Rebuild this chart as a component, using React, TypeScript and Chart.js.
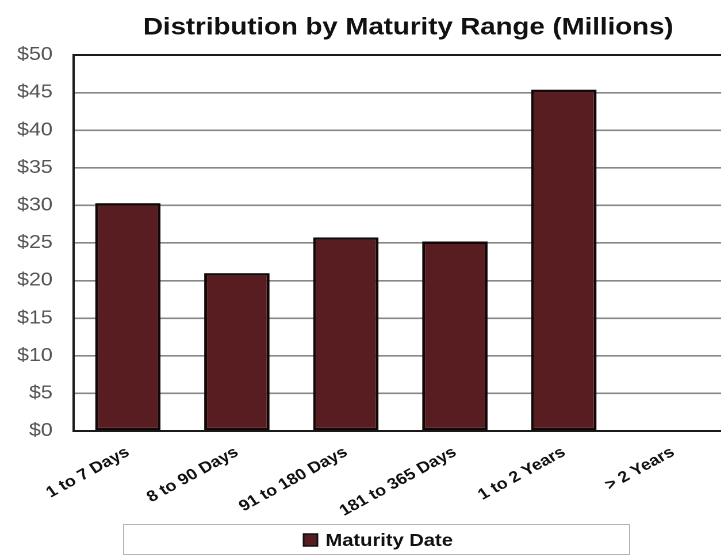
import React, { useEffect, useRef } from 'react';
import { Chart, registerables } from 'chart.js';

Chart.register(...registerables);

const titleText = 'Distribution by Maturity Range (Millions)';
const seriesLabel = 'Maturity Date';
const categories = ['1 to 7 Days', '8 to 90 Days', '91 to 180 Days', '181 to 365 Days', '1 to 2 Years', '> 2 Years'];
const maturityValues = [30.3, 21.0, 25.75, 25.2, 45.4, 0];
const yMin = 0;
const yMax = 50;
const yStep = 5;

const SX = 1.15; // horizontal stretch of the reference picture
const CW = 640;
const CH = 556;
const FONT = '"Liberation Sans", Arial, sans-serif';
const BAR_COLOR = '#581d20';

const overlayPlugin = {
  id: 'overlay',
  afterDraw(chart: any) {
    const ctx = chart.ctx;
    ctx.save();
    // title
    ctx.font = `bold 24px ${FONT}`;
    ctx.fillStyle = '#111';
    ctx.textAlign = 'center';
    ctx.textBaseline = 'middle';
    ctx.fillText(titleText, 355, 28);
    // legend box
    ctx.strokeStyle = '#b4b4b4';
    ctx.lineWidth = 1;
    ctx.strokeRect(107.5, 524.5, 440, 30);
    const ds = chart.data.datasets[0];
    ctx.fillStyle = ds.backgroundColor;
    ctx.fillRect(264, 534, 12, 12);
    ctx.strokeStyle = '#111';
    ctx.lineWidth = 1.5;
    ctx.strokeRect(264, 534, 12, 12);
    ctx.font = `bold 17.5px ${FONT}`;
    ctx.fillStyle = '#111';
    ctx.textAlign = 'left';
    ctx.textBaseline = 'middle';
    ctx.fillText(ds.label, 283, 541);
    ctx.restore();
  },
};

export default function App() {
  const ref = useRef<HTMLCanvasElement | null>(null);
  useEffect(() => {
    if (!ref.current) return;
    const chart = new Chart(ref.current, {
      type: 'bar',
      data: {
        labels: categories,
        datasets: [
          {
            label: seriesLabel,
            data: maturityValues,
            backgroundColor: BAR_COLOR,
            borderColor: '#120808',
            borderWidth: 2.5,
            borderSkipped: false,
            barPercentage: 0.6,
            categoryPercentage: 1,
          },
        ],
      },
      options: {
        animation: false,
        responsive: false,
        maintainAspectRatio: false,
        devicePixelRatio: 2,
        layout: { padding: { top: 55, bottom: 31, left: 0, right: CW - 632.5 } },
        plugins: {
          legend: { display: false },
          title: { display: false },
          tooltip: { enabled: false },
        },
        scales: {
          x: {
            grid: { display: false, drawTicks: false },
            border: { display: true, color: '#1a1a1a', width: 2 },
            ticks: {
              autoSkip: false,
              minRotation: 32,
              maxRotation: 32,
              padding: 12,
              color: '#111',
              font: { family: FONT, size: 15.5, weight: 'bold' },
            },
            afterFit(scale: any) {
              scale.height = 94;
            },
          },
          y: {
            min: yMin,
            max: yMax,
            ticks: {
              stepSize: yStep,
              padding: 18,
              color: '#555',
              font: { family: FONT, size: 18.5 },
              callback: (v: any) => '$' + v,
            },
            grid: {
              drawTicks: false,
              color: (c: any) => (c.tick && c.tick.value === yMax ? '#1a1a1a' : '#888888'),
              lineWidth: (c: any) => (c.tick && c.tick.value === yMax ? 2 : 1.6),
            },
            border: { display: true, color: '#1a1a1a', width: 2 },
            afterFit(scale: any) {
              scale.width = 63.8;
            },
          },
        },
      },
      plugins: [overlayPlugin],
    });
    return () => chart.destroy();
  }, []);

  return (
    <div
      style={{
        position: 'fixed',
        left: 0,
        top: 0,
        width: 721,
        height: 556,
        overflow: 'hidden',
        background: '#fff',
      }}
    >
      <div style={{ width: CW, height: CH, transform: `scaleX(${SX})`, transformOrigin: '0 0' }}>
        <canvas ref={ref} width={CW} height={CH} style={{ display: 'block', width: CW, height: CH }} />
      </div>
    </div>
  );
}
